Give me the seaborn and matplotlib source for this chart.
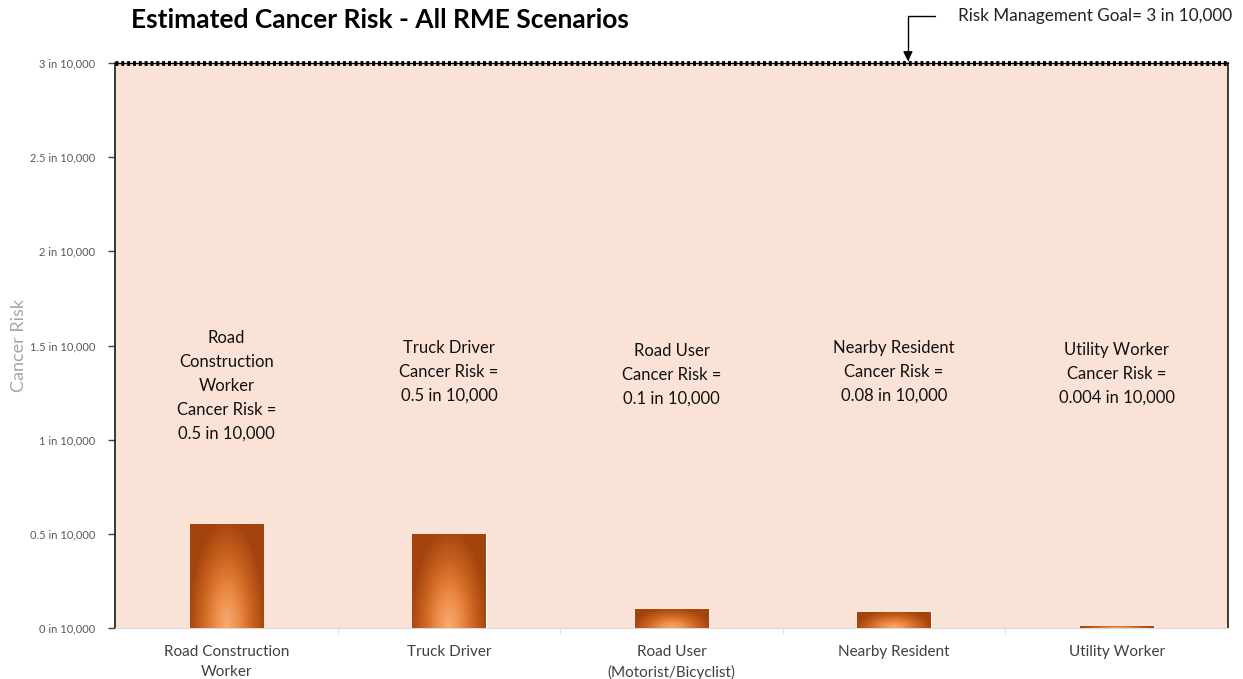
import numpy as np
import pandas as pd
import matplotlib.pyplot as plt
import seaborn as sns
from matplotlib.colors import LinearSegmentedColormap

# values (risk per 10,000)
receptors = ['Road Construction\nWorker', 'Truck Driver', 'Road User\n(Motorist/Bicyclist)',
             'Nearby Resident', 'Utility Worker']
risk = [0.55, 0.50, 0.10, 0.085, 0.012]
notes = ['Road\nConstruction\nWorker\nCancer Risk =\n0.5 in 10,000',
         'Truck Driver\nCancer Risk =\n0.5 in 10,000',
         'Road User\nCancer Risk =\n0.1 in 10,000',
         'Nearby Resident\nCancer Risk =\n0.08 in 10,000',
         'Utility Worker\nCancer Risk =\n0.004 in 10,000']
note_y = [1.285, 1.36, 1.345, 1.36, 1.35]
goal = 3.0
yticks = [0, 0.5, 1, 1.5, 2, 2.5, 3]

df = pd.DataFrame({'receptor': receptors, 'risk': risk})

sns.set_style('white')
plt.rcParams['font.family'] = ['Lato', 'DejaVu Sans']

fig = plt.figure(figsize=(12.43, 6.79), dpi=100)
ax = fig.add_axes([0.0925, 0.0751, 0.8955, 0.8321])
ax.set_facecolor('#FAE3D6')

sns.barplot(data=df, x='receptor', y='risk', color='#D9712E', width=0.33, ax=ax)

# radial-ish gradient fill for each bar (light at bottom centre, dark at edges/top)
cmap = LinearSegmentedColormap.from_list('bar', ['#F6AE78', '#EC8A45', '#C9621F', '#A3440E'])
u = np.linspace(0, 1, 80)
v = np.linspace(0, 1, 120)
U, V = np.meshgrid(u, v)
D = np.clip(np.sqrt(((U - 0.5) * 2) ** 2 + V ** 2) / 1.05, 0, 1)
for p in ax.patches:
    x0, y0 = p.get_x(), p.get_y()
    w, h = p.get_width(), p.get_height()
    im = ax.imshow(D, cmap=cmap, vmin=0, vmax=1, origin='lower', aspect='auto',
                   extent=[x0, x0 + w, y0, y0 + h], zorder=3)
    im.set_clip_path(p)

ax.set_xlim(-0.5, 4.5)
ax.set_ylim(0, 3.0)

# risk management goal line
ax.axhline(goal, color='black', lw=1.0, zorder=4, clip_on=False)
ax.axhline(goal, color='black', lw=3.5, ls=(0, (0.6, 0.6)), zorder=4, clip_on=False)

ax.annotate('Risk Management Goal= 3 in 10,000', xy=(3.062, goal + 0.01),
            xytext=(3.287, 3.25), textcoords='data', fontsize=12.3, color='#222222',
            ha='left', va='center', annotation_clip=False,
            arrowprops=dict(arrowstyle='-|>', color='black', lw=1.0, relpos=(0, 0.5),
                            shrinkA=14, shrinkB=0, mutation_scale=14,
                            connectionstyle='angle,angleA=0,angleB=90,rad=0'))

for i, (t, y) in enumerate(zip(notes, note_y)):
    ax.text(i, y, t, ha='center', va='center', fontsize=12, color='#111111',
            linespacing=1.6)

ax.set_yticks(yticks)
ax.set_yticklabels([f'{t:g} in 10,000' for t in yticks], fontsize=8, color='#595959')
ax.tick_params(axis='y', direction='out', length=5, width=1, color='#404040', pad=9, left=True)
ax.set_xticks(range(5))
ax.set_xticklabels(receptors, linespacing=1.55)
ax.tick_params(axis='x', length=0, labelsize=11, labelcolor='#404040', pad=12)
ax.set_xticks([0.5, 1.5, 2.5, 3.5], minor=True)
ax.tick_params(axis='x', which='minor', direction='out', length=4, color='#D9D9D9', bottom=True)

ax.set_xlabel('')
ax.set_ylabel('Cancer Risk', fontsize=13, color='#A6A6A6')
ax.yaxis.set_label_coords(-0.079, 0.5)

for s in ['left', 'right']:
    ax.spines[s].set_color('#1a1a1a')
    ax.spines[s].set_linewidth(1.2)
ax.spines['bottom'].set_color('#D9D9D9')
ax.spines['top'].set_visible(False)

fig.text(0.105, 0.97, 'Estimated Cancer Risk - All RME Scenarios', fontsize=19,
         fontweight='bold', ha='left', va='center', color='black')

fig.savefig('out.png', dpi=100)
